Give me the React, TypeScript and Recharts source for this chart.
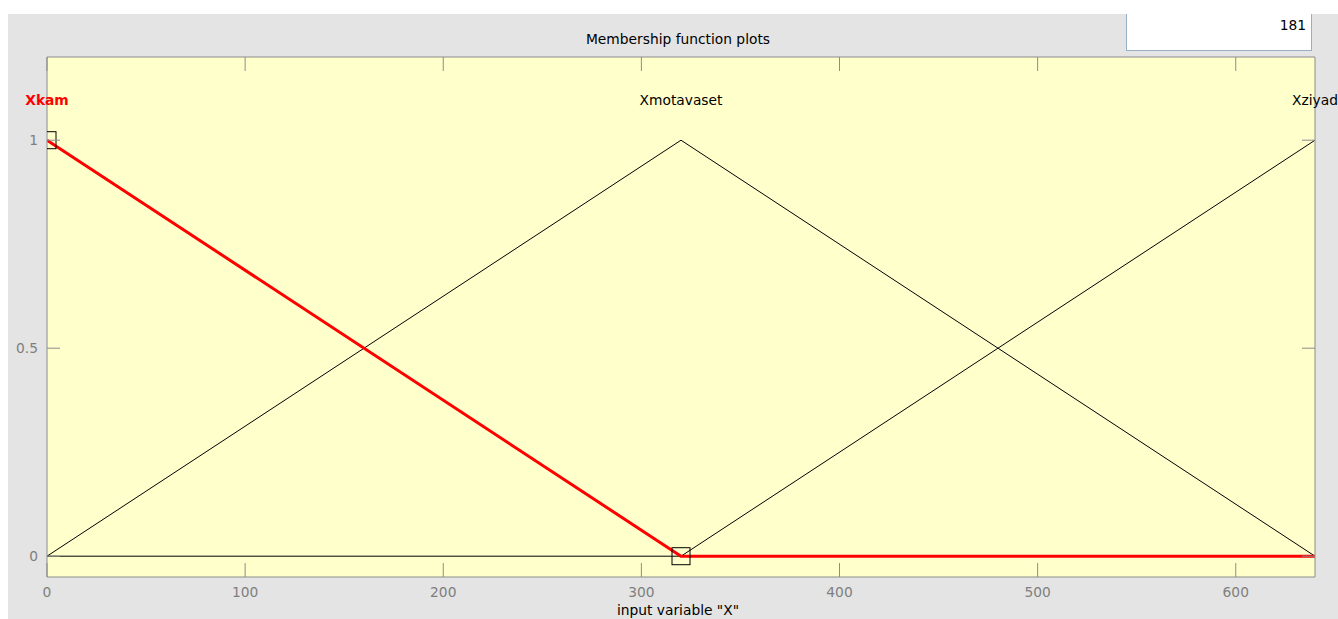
import React from 'react';
import { LineChart, Line, XAxis, YAxis, CartesianGrid, ReferenceDot } from 'recharts';

// membership functions of input "X", sampled at their break points
const xPoints = [0, 320, 640];
const xkam = [1, 0, 0];
const xmotavaset = [0, 1, 0];
const xziyad = [0, 0, 1];
const handles = [1, 0, null]; // parameter handles of the selected MF (Xkam)

const mfNames = ['Xkam', 'Xmotavaset', 'Xziyad'];
const mfPeaks = [0, 320, 640];
const mfColors = ['#ff0000', '#000000', '#000000'];
const mfBold = [true, false, false];

const xTicks = [0, 100, 200, 300, 400, 500, 600];
const yTicks = [0, 0.5, 1];
const pointCount = '181';

const data = xPoints.map((x, i) => ({
  x,
  xkam: xkam[i],
  xmotavaset: xmotavaset[i],
  xziyad: xziyad[i],
  handle: handles[i],
}));

const AXIS = '#8c8c8c';
const TICK_TEXT = '#7f7f7f';
const FONT = '"DejaVu Sans", sans-serif';
const FS = 13.8;
const LABEL_LEVEL = 1.1;

const BottomTick = (p: any) => (
  <g>
    <line x1={p.x} y1={p.y} x2={p.x} y2={p.y - 14} stroke={AXIS} />
    <text x={p.x} y={p.y + 20} textAnchor="middle" fill={TICK_TEXT} fontSize={FS} fontFamily={FONT}>
      {p.payload.value}
    </text>
  </g>
);

const TopTick = (p: any) => <line x1={p.x} y1={p.y} x2={p.x} y2={p.y + 14} stroke={AXIS} />;

const LeftTick = (p: any) => (
  <g>
    <line x1={p.x} y1={p.y} x2={p.x + 13} y2={p.y} stroke={AXIS} />
    <text x={p.x - 9} y={p.y + 5} textAnchor="end" fill={TICK_TEXT} fontSize={FS} fontFamily={FONT}>
      {p.payload.value}
    </text>
  </g>
);

const RightTick = (p: any) => <line x1={p.x} y1={p.y} x2={p.x - 13} y2={p.y} stroke={AXIS} />;

const HandleDot = (p: any) => {
  if (p.cx == null || p.cy == null || p.value == null) return <g key={p.index} />;
  return (
    <rect key={p.index} x={p.cx - 9} y={p.cy - 8.5} width={18} height={17} fill="none" stroke="#000" strokeWidth={1} />
  );
};

export default function App() {
  return (
    <div style={{ position: 'absolute', left: 0, top: 0, width: 1338, height: 619, background: '#fff', overflow: 'hidden' }}>
      <div style={{ position: 'absolute', left: 8, top: 14, width: 1330, height: 605, background: '#e4e4e4', overflow: 'hidden' }}>
        <div style={{ position: 'absolute', left: 0, top: 0 }}>
          <LineChart width={1330} height={605} data={data} margin={{ top: 0, right: 0, bottom: 0, left: 0 }}>
            <CartesianGrid fill="#ffffcc" horizontal={false} vertical={false} />
            <XAxis
              dataKey="x"
              type="number"
              domain={[0, 640]}
              ticks={xTicks}
              interval={0}
              allowDataOverflow
              height={42}
              tickSize={0}
              tickMargin={0}
              tickLine={false}
              axisLine={{ stroke: AXIS }}
              tick={<BottomTick />}
              label={(p: any) => (
                <text
                  x={p.viewBox.x + p.viewBox.width / 2 - 3}
                  y={p.viewBox.y + 38}
                  textAnchor="middle"
                  fill="#000"
                  fontSize={FS}
                  fontFamily={FONT}
                >
                  input variable "X"
                </text>
              )}
            />
            <XAxis
              xAxisId="top"
              orientation="top"
              dataKey="x"
              type="number"
              domain={[0, 640]}
              ticks={xTicks}
              interval={0}
              allowDataOverflow
              height={43}
              tickSize={0}
              tickMargin={0}
              tickLine={false}
              axisLine={{ stroke: AXIS }}
              tick={<TopTick />}
              label={(p: any) => (
                <text
                  x={p.viewBox.x + p.viewBox.width / 2 - 3}
                  y={p.viewBox.y + 30}
                  textAnchor="middle"
                  fill="#000"
                  fontSize={FS}
                  fontFamily={FONT}
                >
                  Membership function plots
                </text>
              )}
            />
            <YAxis
              type="number"
              domain={[-0.05, 1.2]}
              ticks={yTicks}
              interval={0}
              allowDataOverflow
              width={39}
              tickSize={0}
              tickMargin={0}
              tickLine={false}
              axisLine={{ stroke: AXIS }}
              tick={<LeftTick />}
            />
            <YAxis
              yAxisId="right"
              orientation="right"
              type="number"
              domain={[-0.05, 1.2]}
              ticks={yTicks}
              interval={0}
              allowDataOverflow
              width={23}
              tickSize={0}
              tickMargin={0}
              tickLine={false}
              axisLine={{ stroke: AXIS }}
              tick={<RightTick />}
            />
            <Line type="linear" dataKey="xziyad" stroke="#000" strokeWidth={1} dot={false} isAnimationActive={false} />
            <Line type="linear" dataKey="xmotavaset" stroke="#000" strokeWidth={1} dot={false} isAnimationActive={false} />
            <Line type="linear" dataKey="xkam" stroke="#ff0000" strokeWidth={3} dot={false} isAnimationActive={false} />
            <Line type="linear" dataKey="handle" stroke="none" dot={<HandleDot />} activeDot={false} isAnimationActive={false} />
            {mfNames.map((name, i) => (
              <ReferenceDot
                key={name}
                x={mfPeaks[i]}
                y={LABEL_LEVEL}
                r={0}
                fill="none"
                stroke="none"
                label={(p: any) => (
                  <text
                    x={p.viewBox.x}
                    y={p.viewBox.y + 6}
                    textAnchor="middle"
                    fill={mfColors[i]}
                    fontWeight={mfBold[i] ? 'bold' : 'normal'}
                    fontSize={FS}
                    fontFamily={FONT}
                  >
                    {name}
                  </text>
                )}
              />
            ))}
          </LineChart>
        </div>
        <div
          style={{
            position: 'absolute',
            left: 1118,
            top: -10,
            width: 184,
            height: 45,
            background: '#fff',
            border: '1px solid #98aec4',
          }}
        >
          <div
            style={{
              position: 'absolute',
              right: 5,
              top: 13,
              fontFamily: FONT,
              fontSize: FS,
              lineHeight: '14px',
              color: '#000',
            }}
          >
            {pointCount}
          </div>
        </div>
      </div>
    </div>
  );
}
